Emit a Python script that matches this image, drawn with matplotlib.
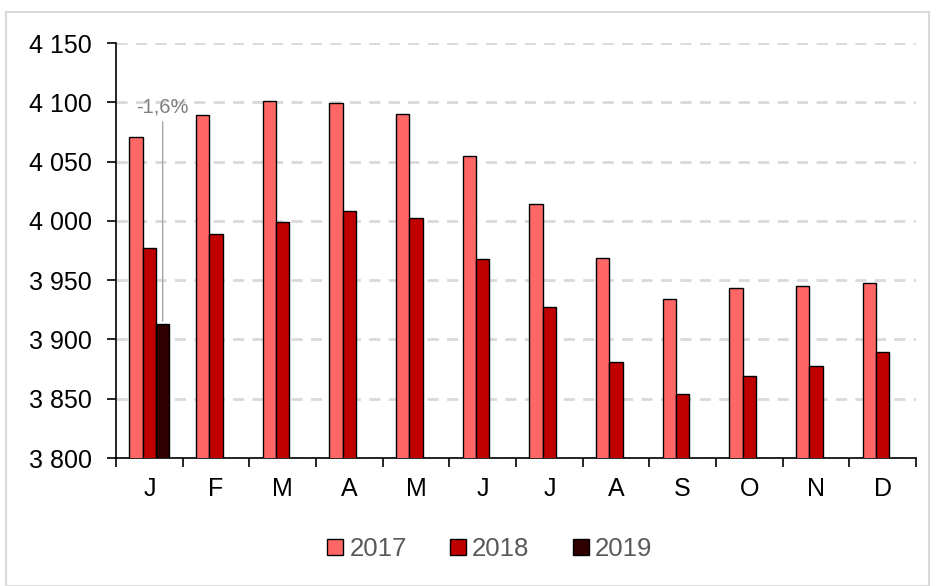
import matplotlib
matplotlib.use("Agg")
import matplotlib.pyplot as plt
import numpy as np
from matplotlib.patches import Rectangle

months = ["J", "F", "M", "A", "M", "J", "J", "A", "S", "O", "N", "D"]
v2017 = [4071, 4089, 4101, 4099, 4090, 4055, 4014, 3969, 3934, 3943, 3945, 3948]
v2018 = [3977, 3989, 3999, 4008, 4002, 3968, 3927, 3881, 3854, 3869, 3878, 3889]
v2019 = [3913]
yticks = [3800, 3850, 3900, 3950, 4000, 4050, 4100, 4150]
annot = "-1,6%"

plt.rcParams['font.family'] = ['Liberation Sans', 'DejaVu Sans']

fig = plt.figure(figsize=(9.37, 5.86), dpi=100)
ax = fig.add_axes([116/937, 1-458/586, 800/937, 415/586])

x = np.arange(len(months))
w = 0.2
c17, c18, c19 = "#ff6666", "#c00000", "#300000"
ax.bar(x - w, v2017, w, color=c17, edgecolor="black", linewidth=1, label="2017", zorder=3)
ax.bar(x, v2018, w, color=c18, edgecolor="black", linewidth=1, label="2018", zorder=3)
ax.bar(x[:len(v2019)] + w, v2019, w, color=c19, edgecolor="black", linewidth=1, label="2019", zorder=3)

ax.set_ylim(3800, 4150)
ax.set_xlim(-0.5, len(months) - 0.5)
ax.set_yticks(yticks)
ax.set_yticklabels([f"{v:,}".replace(",", " ") for v in yticks], fontsize=18)
ax.yaxis.grid(True, color="#d9d9d9", linestyle=(0, (4, 3)), linewidth=2)
ax.set_axisbelow(True)

ax.set_xticks(x)
ax.set_xticklabels(months, fontsize=18)
ax.tick_params(axis="x", length=0, pad=14)
ax.set_xticks(np.arange(-0.5, len(months)), minor=True)
ax.tick_params(axis="x", which="minor", length=6.5, width=1.2, direction="out")
ax.tick_params(axis="y", length=6.5, width=1.2, direction="out", pad=11)

for s in ["top", "right"]:
    ax.spines[s].set_visible(False)
for s in ["left", "bottom"]:
    ax.spines[s].set_linewidth(1.2)

# annotation
ax.annotate("", xy=(x[0] + w, v2019[0]), xytext=(x[0] + w, 4086),
            arrowprops=dict(arrowstyle="-", color="#a6a6a6", lw=1))
ax.text(x[0] + w, 4088, annot, ha="center", va="bottom", color="#7f7f7f", fontsize=14.5)

leg = fig.legend(loc="center", bbox_to_anchor=(490/937, 1-549/586), ncol=3, frameon=False,
                 fontsize=18.5, handlelength=0.6, handleheight=0.6, columnspacing=1.7, handletextpad=0.25)
for t in leg.get_texts():
    t.set_color("#595959")

fig.patches.append(Rectangle((6/937, 0), 923/937, 1-12/586, transform=fig.transFigure,
                             fill=False, edgecolor="#d9d9d9", linewidth=1.5))

fig.savefig("out.png", dpi=100)
